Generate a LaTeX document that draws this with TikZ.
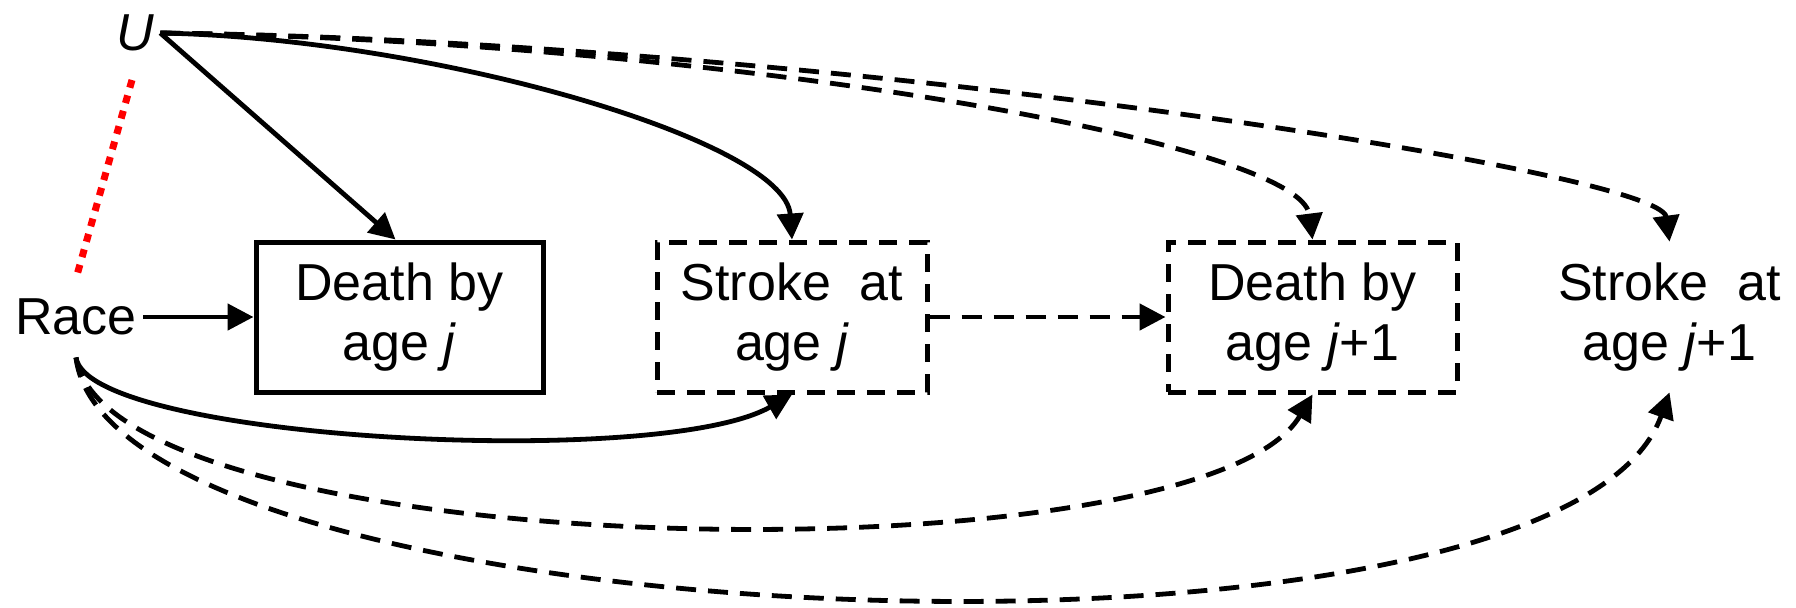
\documentclass[tikz,border=0pt]{standalone}
\usepackage{fontspec}
\setmainfont{Liberation Sans}
\usetikzlibrary{arrows.meta}
\begin{document}
\begin{tikzpicture}[x=0.5pt,y=-0.5pt,
  lbl/.style={font=\fontsize{26}{30}\selectfont, align=center, inner sep=0pt},
  boxsolid/.style={lbl, draw, line width=2.5pt, minimum height=75pt},
  boxdash/.style={boxsolid, dash pattern=on 9pt off 6pt},
  conn/.style={line width=2.4pt, -{Triangle[length=13pt,width=13pt]}},
  dconn/.style={conn, dash pattern=on 10pt off 6pt},
  redline/.style={red, line width=3.5pt, dash pattern=on 4pt off 4pt}
]
\useasboundingbox (0,0) rectangle (1796,607);

\node[lbl, inner xsep=3pt, inner ysep=3pt] (U) at (135,33) {\textit{U}};
\node[lbl, inner xsep=3pt, inner ysep=11pt] (Race) at (76,317) {Race};
\node[boxsolid, minimum width=143.5pt] (b1) at (399.5,317) {Death by\\age \textit{j}};
\node[boxdash, minimum width=135pt] (b2) at (792,317) {Stroke\ \ at\\age \textit{j}};
\node[boxdash, minimum width=144.5pt] (b3) at (1312.5,317) {Death by\\age \textit{j}+1};
\node[lbl, minimum width=144.5pt, minimum height=75pt] (b4) at (1669.5,317) {Stroke\ \ at\\age \textit{j}+1};

\coordinate (r1) at (132,80);
\coordinate (r2) at (77,275);
\draw[redline] (r1) -- (r2);

\draw[conn] (Race.east) -- (b1.west);
\draw[conn] (U.east) -- ([xshift=-2pt]b1.north);
\draw[conn] (U.east) .. controls (430,38) and (785,140) .. (b2.north);
\draw[dconn] (U.east) .. controls (700,40) and (1300,140) .. (b3.north);
\draw[dconn] (U.east) .. controls (800,40) and (1660,170) .. (b4.north);
\draw[dconn] (b2.east) -- (b3.west);

\draw[conn] (Race.south) .. controls (88,440) and (660,470) .. (b2.south);
\draw[dconn] (Race.south) .. controls (110,565) and (1200,585) .. (b3.south);
\draw[dconn] (Race.south) .. controls (110,640) and (1560,700) .. (b4.south);
\end{tikzpicture}
\end{document}
